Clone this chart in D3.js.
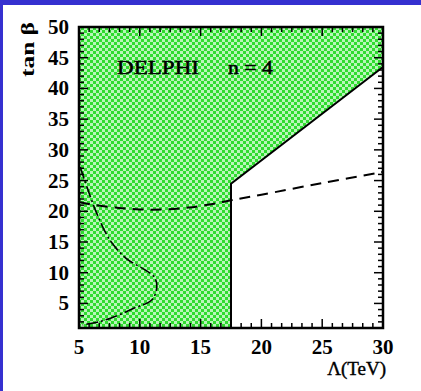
<!DOCTYPE html>
<html>
<head>
<meta charset="utf-8">
<script src="https://cdn.jsdelivr.net/npm/d3@7"></script>
<style>
html,body{margin:0;padding:0;background:#fff;}
svg{display:block;}
</style>
</head>
<body>
<script>
// ---- data ----
const xTicks = [5, 10, 15, 20, 25, 30];
const yTicks = [5, 10, 15, 20, 25, 30, 35, 40, 45, 50];
// excluded-region boundary (solid line)
const boundaryX = [17.5, 17.5, 30];
const boundaryY = [1, 24.5, 43.5];
// dashed curve
const dashedX = [5, 6, 8, 10, 12, 14, 16, 17.5, 20, 25, 30];
const dashedY = [21.5, 21.1, 20.6, 20.3, 20.3, 20.6, 21.2, 21.8, 22.7, 24.6, 26.4];
// dash-dotted curve
const dashDotX = [5.1, 5.7, 6.45, 7.55, 8.9, 10.4, 11.2, 11.4, 11.0, 9.5, 7.6, 6.4, 5.3];
const dashDotY = [27.2, 23.7, 19.7, 15.3, 12.3, 10.5, 9.3, 7.7, 5.6, 4.2, 2.6, 1.9, 1.5];
const xDomain = [5, 30];
const yDomain = [1, 50];
const labelText = "DELPHI";
const nText = "n = 4";
const xTitle = "\u039B(TeV)";
const yTitle = "tan \u03B2";

// ---- layout ----
const W = 421, H = 391;
const svg = d3.select("body").append("svg").attr("width", W).attr("height", H);
// blue frame
svg.append("rect").attr("x", 0).attr("y", 0).attr("width", W).attr("height", H).attr("fill", "#3530d0");
svg.append("rect").attr("x", 3).attr("y", 5).attr("width", W - 3).attr("height", H - 5).attr("fill", "#ffffff");

const x = d3.scaleLinear().domain(xDomain).range([79, 383]);
const y = d3.scaleLinear().domain(yDomain).range([328, 27]);

// checker pattern
const defs = svg.append("defs");
const pat = defs.append("pattern").attr("id", "chk").attr("patternUnits", "userSpaceOnUse")
  .attr("width", 6).attr("height", 6);
pat.append("rect").attr("width", 6).attr("height", 6).attr("fill", "#b8f5b8");
pat.append("rect").attr("width", 3).attr("height", 3).attr("fill", "#2edc2e");
pat.append("rect").attr("x", 3).attr("y", 3).attr("width", 3).attr("height", 3).attr("fill", "#2edc2e");

const line = d3.line().x(d => x(d[0])).y(d => y(d[1]));

// excluded region polygon
const polyPts = [[xDomain[0], yDomain[0]]]
  .concat(boundaryX.map((v, i) => [v, boundaryY[i]]))
  .concat([[xDomain[1], yDomain[1]], [xDomain[0], yDomain[1]]]);
svg.append("path").attr("d", line(polyPts) + "Z").attr("fill", "url(#chk)");

// boundary line
svg.append("path").attr("d", line(boundaryX.map((v, i) => [v, boundaryY[i]])))
  .attr("fill", "none").attr("stroke", "#000").attr("stroke-width", 2);

// dashed curve
const smooth = d3.line().x(d => x(d[0])).y(d => y(d[1])).curve(d3.curveCatmullRom);
svg.append("path").attr("d", smooth(dashedX.map((v, i) => [v, dashedY[i]])))
  .attr("fill", "none").attr("stroke", "#000").attr("stroke-width", 2)
  .attr("stroke-dasharray", "11,7");

// dash-dot curve
svg.append("path").attr("d", smooth(dashDotX.map((v, i) => [v, dashDotY[i]])))
  .attr("fill", "none").attr("stroke", "#000").attr("stroke-width", 1.6)
  .attr("stroke-dasharray", "12,3,2,3");

// ticks
const tk = svg.append("g").attr("stroke", "#000").attr("stroke-width", 1.5);
const xMinor = d3.range(0, 31).map(k => xDomain[0] + k * 5 / 6);
xMinor.forEach(v => {
  const isMaj = xTicks.some(t => Math.abs(t - v) < 1e-6);
  const L = isMaj ? 9 : 5;
  tk.append("line").attr("x1", x(v)).attr("x2", x(v)).attr("y1", y(yDomain[0])).attr("y2", y(yDomain[0]) - L);
  tk.append("line").attr("x1", x(v)).attr("x2", x(v)).attr("y1", y(yDomain[1])).attr("y2", y(yDomain[1]) + L);
});
d3.range(1, 51).forEach(v => {
  const isMaj = v % 5 === 0;
  const L = isMaj ? 9 : 5;
  tk.append("line").attr("y1", y(v)).attr("y2", y(v)).attr("x1", x(xDomain[0])).attr("x2", x(xDomain[0]) + L);
  tk.append("line").attr("y1", y(v)).attr("y2", y(v)).attr("x1", x(xDomain[1])).attr("x2", x(xDomain[1]) - L);
});

// frame
svg.append("rect").attr("x", x(xDomain[0])).attr("y", y(yDomain[1]))
  .attr("width", x(xDomain[1]) - x(xDomain[0])).attr("height", y(yDomain[0]) - y(yDomain[1]))
  .attr("fill", "none").attr("stroke", "#000").attr("stroke-width", 2.5);

const serif = "'Liberation Serif','Times New Roman',serif";
// tick labels
svg.append("g").selectAll("text").data(xTicks).join("text")
  .attr("x", d => x(d)).attr("y", 354).attr("text-anchor", "middle")
  .attr("font-family", serif).attr("font-weight", "bold").attr("font-size", 21)
  .text(d => d);
svg.append("g").selectAll("text").data(yTicks).join("text")
  .attr("x", 69).attr("y", d => y(d) + 7).attr("text-anchor", "end")
  .attr("font-family", serif).attr("font-weight", "bold").attr("font-size", 21)
  .text(d => d);

// axis titles
svg.append("text").attr("x", 386).attr("y", 375).attr("text-anchor", "end")
  .attr("font-family", serif).attr("font-size", 19).attr("stroke", "#000").attr("stroke-width", 0.4)
  .text(xTitle);
svg.append("text").attr("transform", "translate(34,77) rotate(-90)").attr("text-anchor", "start")
  .attr("font-family", serif).attr("font-weight", "bold").attr("font-size", 19)
  .attr("textLength", 55).attr("lengthAdjust", "spacingAndGlyphs").text(yTitle);

// annotation
svg.append("text").attr("x", 117).attr("y", 74).attr("font-family", serif).attr("font-size", 19)
  .attr("stroke", "#000").attr("stroke-width", 0.5)
  .attr("textLength", 82).attr("lengthAdjust", "spacingAndGlyphs").text(labelText);
svg.append("text").attr("x", 228).attr("y", 74).attr("font-family", serif).attr("font-size", 19)
  .attr("stroke", "#000").attr("stroke-width", 0.5)
  .attr("textLength", 45).attr("lengthAdjust", "spacingAndGlyphs").text(nText);
</script>
</body>
</html>
